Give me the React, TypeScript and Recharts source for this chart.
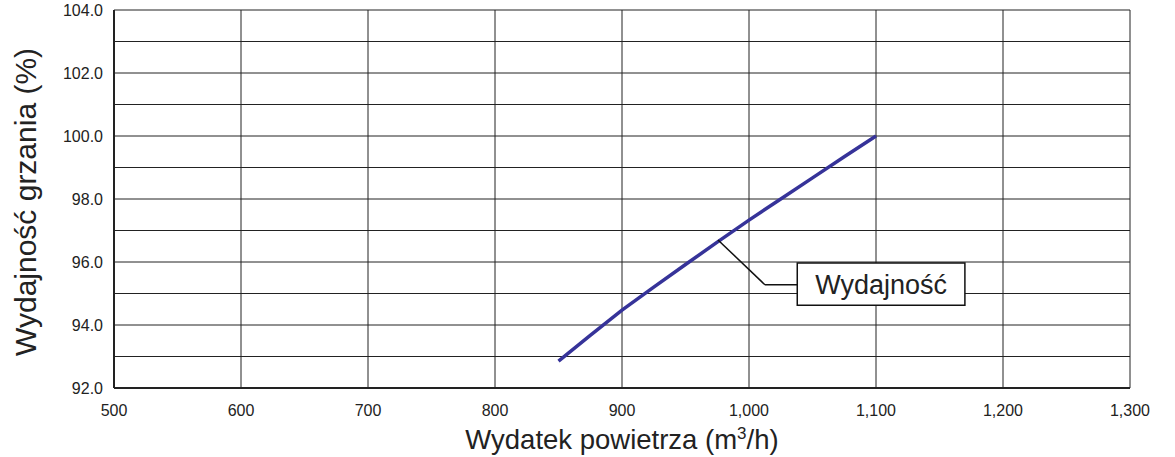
import { LineChart, Line, XAxis, YAxis, CartesianGrid, ReferenceLine, ReferenceArea, Label } from 'recharts';

const airflow = [850, 875, 900, 925, 950, 975, 1000, 1025, 1050, 1075, 1100];
const efficiency = [92.85, 93.67, 94.47, 95.2, 95.92, 96.63, 97.33, 98.0, 98.67, 99.34, 100.0];

const xTicks = [500, 600, 700, 800, 900, 1000, 1100, 1200, 1300];
const yTicks = [92, 93, 94, 95, 96, 97, 98, 99, 100, 101, 102, 103, 104];

// adnotacja "Wydajność"
const calloutPoint = { x: 975.6, y: 96.7 };
const calloutElbow = { x: 1012.5, y: 95.28 };
const calloutBox = { x1: 1038, x2: 1170, y1: 94.63, y2: 95.97 };

const data = airflow.map((x, i) => ({ x, y: efficiency[i] }));

const FONT = '"Liberation Sans", Arial, sans-serif';
const INK = '#222';

const YTitle = () => {
  const cy = 202;
  return (
    <text x={25} y={cy} transform={`rotate(-90, 25, ${cy})`} textAnchor="middle" dominantBaseline="central"
      fontFamily={FONT} fontSize={30} fill={INK}>
      Wydajność grzania (%)
    </text>
  );
};

const XTitle = (props: any) => {
  const vb = props.viewBox;
  const cx = vb.x + vb.width / 2;
  return (
    <text x={cx} y={449} textAnchor="middle" fontFamily={FONT} fontSize={27.5} fill={INK}>
      Wydatek powietrza (m<tspan dy={-10} fontSize={17}>3</tspan><tspan dy={10}>/h)</tspan>
    </text>
  );
};

export default function App() {
  return (
    <div style={{ position: 'absolute', left: 0, top: 0, background: '#fff' }}>
      <LineChart width={1175} height={457} data={data} margin={{ top: 10, right: 45, bottom: 0, left: 0 }}>
        <CartesianGrid stroke={INK} strokeWidth={1} horizontalValues={yTicks} verticalValues={xTicks} />
        <XAxis
          dataKey="x"
          type="number"
          domain={[500, 1300]}
          ticks={xTicks}
          height={69}
          tickSize={0}
          tickMargin={17}
          tickFormatter={(v: number) => v.toLocaleString('en-US')}
          tick={{ fontSize: 16, fill: INK, fontFamily: FONT }}
          axisLine={{ stroke: INK, strokeWidth: 2 }}
        >
          <Label content={XTitle} />
        </XAxis>
        <YAxis
          type="number"
          domain={[92, 104]}
          ticks={yTicks}
          width={114}
          tickSize={0}
          tickMargin={11}
          interval={0}
          tickFormatter={(v: number) => (v % 2 === 0 ? v.toFixed(1) : '')}
          tick={{ fontSize: 16, fill: INK, fontFamily: FONT }}
          axisLine={{ stroke: INK, strokeWidth: 2 }}
        >
          <Label content={YTitle} />
        </YAxis>
        <Line
          dataKey="y"
          type="linear"
          stroke="#363399"
          strokeWidth={3.5}
          dot={false}
          isAnimationActive={false}
        />
        <ReferenceLine
          segment={[calloutPoint, calloutElbow]}
          stroke="#111"
          strokeWidth={1.5}
        />
        <ReferenceLine
          segment={[calloutElbow, { x: calloutBox.x1, y: calloutElbow.y }]}
          stroke="#111"
          strokeWidth={1.5}
        />
        <ReferenceArea
          x1={calloutBox.x1}
          x2={calloutBox.x2}
          y1={calloutBox.y1}
          y2={calloutBox.y2}
          fill="#fff"
          fillOpacity={1}
          stroke="#111"
          strokeWidth={1.5}
          label={{ value: 'Wydajność', position: 'center', fontSize: 27, fill: INK, fontFamily: FONT }}
        />
      </LineChart>
    </div>
  );
}
